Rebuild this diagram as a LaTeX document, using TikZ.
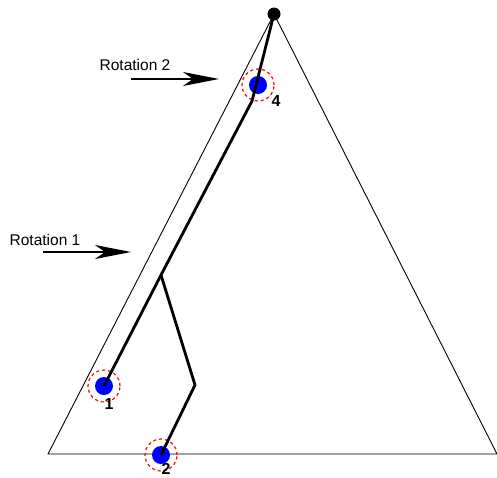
\documentclass[tikz,border=0pt]{standalone}
\usepackage{fontspec}
\setmainfont{Liberation Sans}
\usetikzlibrary{arrows.meta}
\begin{document}
\begin{tikzpicture}[x=1pt,y=-1pt,
  thin line/.style={line width=0.9pt},
  branch/.style={line width=2.8pt, line join=miter},
  leaf/.style={circle, fill=blue, minimum size=18pt, inner sep=0pt},
  halo/.style={circle, draw=red, dashed, line width=1.2pt, minimum size=32pt, inner sep=0pt},
  lbl/.style={font=\bfseries\fontsize{16}{16}\selectfont},
  rot/.style={font=\fontsize{15.5}{15.5}\selectfont},
  rotarrow/.style={line width=2pt, -{Stealth[length=36pt,width=14pt,inset=10pt]}}]
\useasboundingbox (0,0) rectangle (497,477);
% triangle
\coordinate (top) at (274,14);
\coordinate (bl) at (48,454);
\coordinate (br) at (497,454);
\draw[thin line] (bl) -- (top) -- (br) -- cycle;
% leaves
\node[halo] (h4) at (258,85) {};
\node[halo] (h1) at (104,386) {};
\node[halo] (h2) at (161,455) {};
\node[leaf] (n4) at (258,85) {};
\node[leaf] (n1) at (104,386) {};
\node[leaf] (n2) at (161,455) {};
\node[lbl] (l4) at (276,101) {4};
\node[lbl] (l1) at (109,404) {1};
\node[lbl] (l2) at (166,469) {2};
% tree
\coordinate (b4) at (252,101);
\coordinate (j) at (161,275);
\coordinate (k) at (195,385);
\draw[branch] (top) -- (b4) -- (j) -- (n1.center);
\draw[branch] (j) -- (k) -- (n2.center);
\fill (top) circle (6.5pt);
% rotations
\node[rot] (r2) at (135,65) {Rotation 2};
\coordinate (a2s) at (131,79);
\coordinate (a2e) at (219,79);
\draw[rotarrow] (a2s) -- (a2e);
\node[rot] (r1) at (45,240) {Rotation 1};
\coordinate (a1s) at (43,252);
\coordinate (a1e) at (131,252);
\draw[rotarrow] (a1s) -- (a1e);
\end{tikzpicture}
\end{document}
